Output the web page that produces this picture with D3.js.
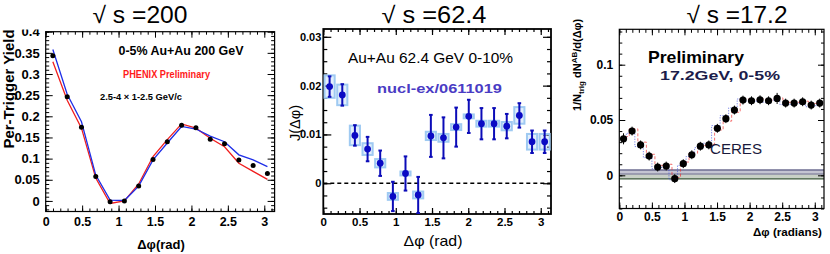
<!DOCTYPE html>
<html><head><meta charset="utf-8">
<script src="https://cdn.jsdelivr.net/npm/d3@7"></script>
<style>body{margin:0;background:#fff} svg{display:block}</style>
</head><body><svg id="c" width="830" height="254"></svg>
<script>
// ---------- Panel 1: sqrt(s)=200 ----------
const p1X    = [0.098,0.295,0.491,0.687,0.884,1.080,1.276,1.473,1.669,1.865,2.062,2.258,2.454,2.651,2.847,3.043];
const p1Pts  = [0.343,0.246,0.174,0.0575,-0.002,0.000,0.035,0.098,0.140,0.179,0.173,0.146,0.135,0.097,0.084,0.065];
const p1Blue = [0.358,0.252,0.187,0.061,0.002,0.001,0.035,0.097,0.137,0.176,0.170,0.153,0.140,0.109,0.097,0.081];
const p1Red  = [0.329,0.238,0.172,0.054,-0.006,0.000,0.040,0.105,0.145,0.182,0.172,0.148,0.128,0.089,0.070,0.051];
const p1XTicks = [0,0.5,1,1.5,2,2.5,3];
const p1XLabels = ["0","0.5","1","1.5","2","2.5","3"];
const p1YTicks = [0,0.05,0.1,0.15,0.2,0.25,0.3,0.35,0.4];
const p1YLabels = ["0","0.05","0.1","0.15","0.2","0.25","0.3","0.35","0.4"];

// ---------- Panel 2: sqrt(s)=62.4 ----------
const p2X   = [0.087,0.262,0.436,0.611,0.785,0.960,1.134,1.309,1.484,1.658,1.833,2.007,2.182,2.356,2.531,2.705,2.880,3.054];
const p2Y   = [0.0198,0.0181,0.0098,0.0070,0.0041,-0.0027,0.0020,-0.0024,0.0097,0.0093,0.0115,0.0137,0.0122,0.0122,0.0117,0.0139,0.0085,0.0085];
const p2Err = [0.0021,0.0022,0.0021,0.0025,0.0026,0.0030,0.0035,0.0037,0.0043,0.0042,0.0040,0.0034,0.0032,0.0032,0.0025,0.0025,0.0023,0.0023];
const p2Sys = [0.0023,0.0021,0.0020,0.0012,0.00085,0.0007,0.0004,0.0007,0.00085,0.0008,0.0006,0.0004,0.0006,0.0006,0.00085,0.0017,0.0016,0.0016];
const p2XTicks = [0,0.5,1,1.5,2,2.5,3];
const p2XLabels = ["0","0.5","1","1.5","2","2.5","3"];
const p2YTicks = [0,0.01,0.02,0.03];
const p2YLabels = ["0","0.01","0.02","0.03"];

// ---------- Panel 3: sqrt(s)=17.2 ----------
const p3X    = [0.065,0.196,0.327,0.458,0.589,0.720,0.851,0.982,1.113,1.244,1.374,1.505,1.636,1.767,1.898,2.029,2.160,2.291,2.422,2.553,2.683,2.814,2.945,3.076];
const p3Y    = [0.033,0.040,0.0275,0.0174,0.0075,0.0084,-0.003,0.0105,0.0186,0.0263,0.0275,0.0425,0.0512,0.059,0.068,0.0674,0.0683,0.0674,0.0695,0.0653,0.0653,0.0665,0.0635,0.0653];
const p3Err  = [0.005,0.004,0.004,0.004,0.004,0.004,0.004,0.004,0.004,0.004,0.004,0.004,0.004,0.004,0.004,0.004,0.004,0.004,0.005,0.004,0.004,0.004,0.004,0.004];
const p3Red  = [0.035,0.042,0.030,0.019,0.009,0.010,-0.002,0.012,0.020,0.027,0.028,0.041,0.049,0.057,0.069,0.068,0.069,0.068,0.070,0.066,0.066,0.067,0.065,0.067];
const p3Blue = [0.031,0.038,0.026,0.016,0.006,0.007,-0.004,0.009,0.017,0.025,0.029,0.045,0.054,0.061,0.069,0.067,0.067,0.066,0.068,0.064,0.064,0.065,0.062,0.063];
const p3Band = [-0.0033, 0.0012, 0.0048];
const p3XTicks = [0,0.5,1,1.5,2,2.5,3];
const p3XLabels = ["0","0.5","1","1.5","2","2.5","3"];
const p3YTicks = [0,0.05,0.1];
const p3YLabels = ["0","0.05","0.1"];

const titles = ["\u221A s =200","\u221A s =62.4","\u221A s =17.2"];

const FONT = "'Liberation Sans', Arial, Helvetica, sans-serif";
const svg = d3.select("#c");

function drawFrame(g, x, y, c) {
  const [xl, xr] = x.range();
  const [yb, yt] = y.range();
  const fix = (s, fs) => {
    s.select(".domain").remove();
    s.attr("font-family", null).attr("font-size", null);
    s.selectAll("line").attr("stroke", "#000").attr("stroke-width", c.tw || 1);
    s.selectAll("text").attr("font-family", FONT).attr("font-weight", "bold")
      .attr("font-size", fs).attr("fill", "#000");
  };
  const add = (gen, tr, fs) => g.append("g").attr("transform", tr).call(gen).call(s => fix(s, fs));
  add(d3.axisBottom(x).tickValues(c.xMinor).tickSizeInner(-c.xMin).tickSizeOuter(0).tickFormat(""), `translate(0,${yb})`);
  add(d3.axisBottom(x).tickValues(c.xMajor).tickSizeInner(-c.xMaj).tickSizeOuter(0).tickPadding(c.xPad)
        .tickFormat((d, i) => c.xLabels[i]), `translate(0,${yb})`, c.xFs);
  add(d3.axisTop(x).tickValues(c.xMinor).tickSizeInner(-c.xMin).tickSizeOuter(0).tickFormat(""), `translate(0,${yt})`);
  add(d3.axisTop(x).tickValues(c.xMajor).tickSizeInner(-c.xMaj).tickSizeOuter(0).tickFormat(""), `translate(0,${yt})`);
  add(d3.axisLeft(y).tickValues(c.yMinor).tickSizeInner(-c.yMin).tickSizeOuter(0).tickFormat(""), `translate(${xl},0)`);
  add(d3.axisLeft(y).tickValues(c.yMajor).tickSizeInner(-c.yMaj).tickSizeOuter(0).tickPadding(c.yPad)
        .tickFormat((d, i) => c.yLabels[i]), `translate(${xl},0)`, c.yFs);
  add(d3.axisRight(y).tickValues(c.yMinor).tickSizeInner(-c.yMin).tickSizeOuter(0).tickFormat(""), `translate(${xr},0)`);
  add(d3.axisRight(y).tickValues(c.yMajor).tickSizeInner(-c.yMaj).tickSizeOuter(0).tickFormat(""), `translate(${xr},0)`);
  g.append("rect").attr("x", xl).attr("y", yt).attr("width", xr - xl).attr("height", yb - yt)
    .attr("fill", "none").attr("stroke", "#000").attr("stroke-width", c.fw || 1.3);
}

function minorTicks(a, b, step) {
  const n = Math.round((b - a) / step);
  return d3.range(n + 1).map(i => +(a + i * step).toFixed(6));
}

// Titles
const titleX = [140, 434, 737];
const titleW = [95, 105, 101];
titles.forEach((t, i) => {
  svg.append("text").attr("x", titleX[i]).attr("y", 23).attr("text-anchor", "middle")
    .attr("font-family", FONT).attr("font-size", 23).attr("fill", "#000")
    .attr("textLength", titleW[i]).attr("lengthAdjust", "spacingAndGlyphs").text(t);
});

// ================= Panel 1 =================
{
  svg.append("clipPath").attr("id", "clip1").append("rect").attr("x", 0).attr("y", 29.5).attr("width", 290).attr("height", 230);
  const g = svg.append("g").attr("clip-path", "url(#clip1)");
  const x = d3.scaleLinear().domain([0, Math.PI]).range([45.7, 274.6]);
  const y = d3.scaleLinear().domain([-0.025, 0.4]).range([211.5, 31.7]);
  drawFrame(g, x, y, {
    xMajor: p1XTicks, xLabels: p1XLabels, xMinor: minorTicks(0, 3.1, 0.1),
    yMajor: p1YTicks, yLabels: p1YLabels, yMinor: minorTicks(-0.02, 0.4, 0.01),
    xMaj: 6, xMin: 3, yMaj: 7, yMin: 3.5, xPad: 5.5, yPad: 6, xFs: 12.5, yFs: 13, fw: 1.2
  });
  const line = d3.line().x((d, i) => x(p1X[i])).y(d => y(d));
  g.append("path").datum(p1Red).attr("d", line).attr("fill", "none").attr("stroke", "#f01e1e").attr("stroke-width", 1.3);
  g.append("path").datum(p1Blue).attr("d", line).attr("fill", "none").attr("stroke", "#1e2ee8").attr("stroke-width", 1.3);
  g.selectAll("circle.p1").data(p1Pts).join("circle").attr("cx", (d, i) => x(p1X[i])).attr("cy", d => y(d))
    .attr("r", 2.5).attr("fill", "#000");
  g.append("text").attr("x", 181).attr("y", 55).attr("text-anchor", "middle").attr("font-family", FONT)
    .attr("font-weight", "bold").attr("font-size", 12.5).attr("textLength", 125).attr("lengthAdjust", "spacingAndGlyphs")
    .text("0-5% Au+Au 200 GeV");
  g.append("text").attr("x", 166.5).attr("y", 78).attr("text-anchor", "middle").attr("font-family", FONT)
    .attr("font-weight", "bold").attr("font-size", 10).attr("fill", "#ff1a1a").attr("textLength", 87).attr("lengthAdjust", "spacingAndGlyphs")
    .text("PHENIX Preliminary");
  g.append("text").attr("x", 100).attr("y", 100).attr("font-family", FONT)
    .attr("font-weight", "bold").attr("font-size", 9).attr("textLength", 82).attr("lengthAdjust", "spacingAndGlyphs")
    .text("2.5-4 \u00D7 1-2.5 GeV/c");
  g.append("text").attr("x", 161).attr("y", 249).attr("text-anchor", "middle").attr("font-family", FONT)
    .attr("font-weight", "bold").attr("font-size", 13).text("\u0394\u03C6(rad)");
  g.append("text").attr("transform", "translate(13.5,89) rotate(-90)").attr("text-anchor", "middle").attr("font-family", FONT)
    .attr("font-weight", "bold").attr("font-size", 15).text("Per-Trigger Yield");
}

// ================= Panel 2 =================
{
  const g = svg.append("g");
  const x = d3.scaleLinear().domain([0, Math.PI]).range([323.3, 551]);
  const y = d3.scaleLinear().domain([-0.0063, 0.0316]).range([214, 29]);
  drawFrame(g, x, y, {
    xMajor: p2XTicks, xLabels: p2XLabels, xMinor: minorTicks(0, 3.1, 0.1),
    yMajor: p2YTicks, yLabels: p2YLabels, yMinor: minorTicks(-0.005, 0.03, 0.0025),
    xMaj: 6, xMin: 3, yMaj: 8, yMin: 4, xPad: 4, yPad: 2, xFs: 11.5, yFs: 11, fw: 1.8, tw: 1.2
  });
  const bw = 0.14;
  g.selectAll("rect.sys").data(p2Y).join("rect").attr("class", "sys")
    .attr("x", (d, i) => x(p2X[i] - bw / 2)).attr("width", (d, i) => x(p2X[i] + bw / 2) - x(p2X[i] - bw / 2))
    .attr("y", (d, i) => y(d + p2Sys[i])).attr("height", (d, i) => y(d - p2Sys[i]) - y(d + p2Sys[i]))
    .attr("fill", "rgba(175,210,245,0.35)").attr("stroke", "#9fcaf2").attr("stroke-width", 2);
  g.append("line").attr("x1", x(0)).attr("x2", x(Math.PI)).attr("y1", y(0)).attr("y2", y(0))
    .attr("stroke", "#000").attr("stroke-width", 1.6).attr("stroke-dasharray", "4,3");
  const eg = g.append("g").attr("stroke", "#0c0cb8").attr("stroke-width", 2);
  p2Y.forEach((v, i) => {
    const cx = x(p2X[i]), lo = Math.max(v - p2Err[i], -0.0062);
    eg.append("line").attr("x1", cx).attr("x2", cx).attr("y1", y(v + p2Err[i])).attr("y2", y(lo));
    eg.append("line").attr("x1", cx - 1.8).attr("x2", cx + 1.8).attr("y1", y(v + p2Err[i])).attr("y2", y(v + p2Err[i]));
    eg.append("line").attr("x1", cx - 1.8).attr("x2", cx + 1.8).attr("y1", y(lo)).attr("y2", y(lo));
  });
  g.selectAll("circle.p2").data(p2Y).join("circle").attr("cx", (d, i) => x(p2X[i])).attr("cy", d => y(d))
    .attr("r", 3.4).attr("fill", "#0a0ac4");
  g.append("text").attr("x", 348).attr("y", 63).attr("font-family", FONT).attr("font-size", 15.5)
    .attr("textLength", 165).attr("lengthAdjust", "spacingAndGlyphs").text("Au+Au 62.4 GeV 0-10%");
  g.append("text").attr("x", 377).attr("y", 93).attr("font-family", FONT).attr("font-weight", "bold")
    .attr("font-size", 13.5).attr("fill", "#4a3cc4").attr("textLength", 125).attr("lengthAdjust", "spacingAndGlyphs")
    .text("nucl-ex/0611019");
  g.append("text").attr("x", 433).attr("y", 246).attr("text-anchor", "middle").attr("font-family", FONT)
    .attr("font-size", 15).attr("textLength", 59).attr("lengthAdjust", "spacingAndGlyphs").text("\u0394\u03C6 (rad)");
  g.append("text").attr("transform", "translate(300,123) rotate(-90)").attr("text-anchor", "middle").attr("font-family", FONT)
    .attr("font-size", 14.5).text("J(\u0394\u03C6)");
}

// ================= Panel 3 =================
{
  const g = svg.append("g");
  const x = d3.scaleLinear().domain([0, Math.PI]).range([619.3, 824]);
  const y = d3.scaleLinear().domain([-0.03, 0.132]).range([208.5, 29.3]);
  const [b0, b1, b2] = p3Band;
  g.append("rect").attr("x", x(0)).attr("width", x(Math.PI) - x(0)).attr("y", y(b2)).attr("height", y(b1) - y(b2)).attr("fill", "#c4c4d2");
  g.append("rect").attr("x", x(0)).attr("width", x(Math.PI) - x(0)).attr("y", y(b1)).attr("height", y(b0) - y(b1)).attr("fill", "#c8d0c6");
  g.append("line").attr("x1", x(0)).attr("x2", x(Math.PI)).attr("y1", y(b2)).attr("y2", y(b2)).attr("stroke", "#6c6c90").attr("stroke-width", 1.6);
  g.append("line").attr("x1", x(0)).attr("x2", x(Math.PI)).attr("y1", y(b1)).attr("y2", y(b1)).attr("stroke", "#8c8ca4").attr("stroke-width", 1.4);
  g.append("line").attr("x1", x(0)).attr("x2", x(Math.PI)).attr("y1", y(b0)).attr("y2", y(b0)).attr("stroke", "#3e5a3e").attr("stroke-width", 1.2);
  drawFrame(g, x, y, {
    xMajor: p3XTicks, xLabels: p3XLabels, xMinor: minorTicks(0, 3.1, 0.1),
    yMajor: p3YTicks, yLabels: p3YLabels, yMinor: minorTicks(-0.03, 0.13, 0.01),
    xMaj: 6, xMin: 3.5, yMaj: 6, yMin: 3, xPad: 3.5, yPad: 6, xFs: 12, yFs: 12, fw: 1.2
  });
  const step = d3.line().x((d, i) => x(p3X[i])).y(d => y(d)).curve(d3.curveStep);
  g.append("path").datum(p3Red).attr("d", step).attr("fill", "none").attr("stroke", "#ee3030").attr("stroke-opacity", 0.75)
    .attr("stroke-width", 0.9).attr("stroke-dasharray", "3,2").attr("transform", "translate(1.5,0)");
  g.append("path").datum(p3Blue).attr("d", step).attr("fill", "none").attr("stroke", "#3a4ae0").attr("stroke-opacity", 0.75)
    .attr("stroke-width", 0.9).attr("stroke-dasharray", "1.2,1.4").attr("transform", "translate(-1.5,0)");
  const eg = g.append("g").attr("stroke", "#000").attr("stroke-width", 1);
  p3Y.forEach((v, i) => {
    eg.append("line").attr("x1", x(p3X[i])).attr("x2", x(p3X[i])).attr("y1", y(v + p3Err[i])).attr("y2", y(v - p3Err[i]));
  });
  g.selectAll("circle.p3").data(p3Y).join("circle").attr("cx", (d, i) => x(p3X[i])).attr("cy", d => y(d))
    .attr("r", 3.6).attr("fill", "#000");
  g.append("text").attr("x", 648).attr("y", 63).attr("font-family", FONT).attr("font-weight", "bold")
    .attr("font-size", 17).attr("textLength", 96).attr("lengthAdjust", "spacingAndGlyphs").text("Preliminary");
  g.append("text").attr("x", 660).attr("y", 80).attr("font-family", FONT).attr("font-weight", "bold")
    .attr("font-size", 13).attr("fill", "#1c1c4a").attr("textLength", 120).attr("lengthAdjust", "spacingAndGlyphs").text("17.2GeV, 0-5%");
  g.append("text").attr("x", 710).attr("y", 154).attr("font-family", FONT)
    .attr("font-size", 14).attr("fill", "#1a1a3c").attr("textLength", 52).attr("lengthAdjust", "spacingAndGlyphs").text("CERES");
  g.append("text").attr("x", 822).attr("y", 235.5).attr("text-anchor", "end").attr("font-family", FONT).attr("font-weight", "bold")
    .attr("font-size", 10.5).attr("textLength", 69).attr("lengthAdjust", "spacingAndGlyphs").text("\u0394\u03C6 (radians)");
  const yl = g.append("text").attr("transform", "translate(581,65) rotate(-90)").attr("text-anchor", "middle")
    .attr("font-family", FONT).attr("font-weight", "bold").attr("font-size", 11);
  yl.append("tspan").text("1/N");
  yl.append("tspan").attr("font-size", 8).attr("dy", 3).text("trig");
  yl.append("tspan").attr("dy", -3).text(" dN");
  yl.append("tspan").attr("font-size", 8).attr("dy", -4).text("AB");
  yl.append("tspan").attr("dy", 4).text("/d(\u0394\u03C6)");
}
</script>
</body></html>
